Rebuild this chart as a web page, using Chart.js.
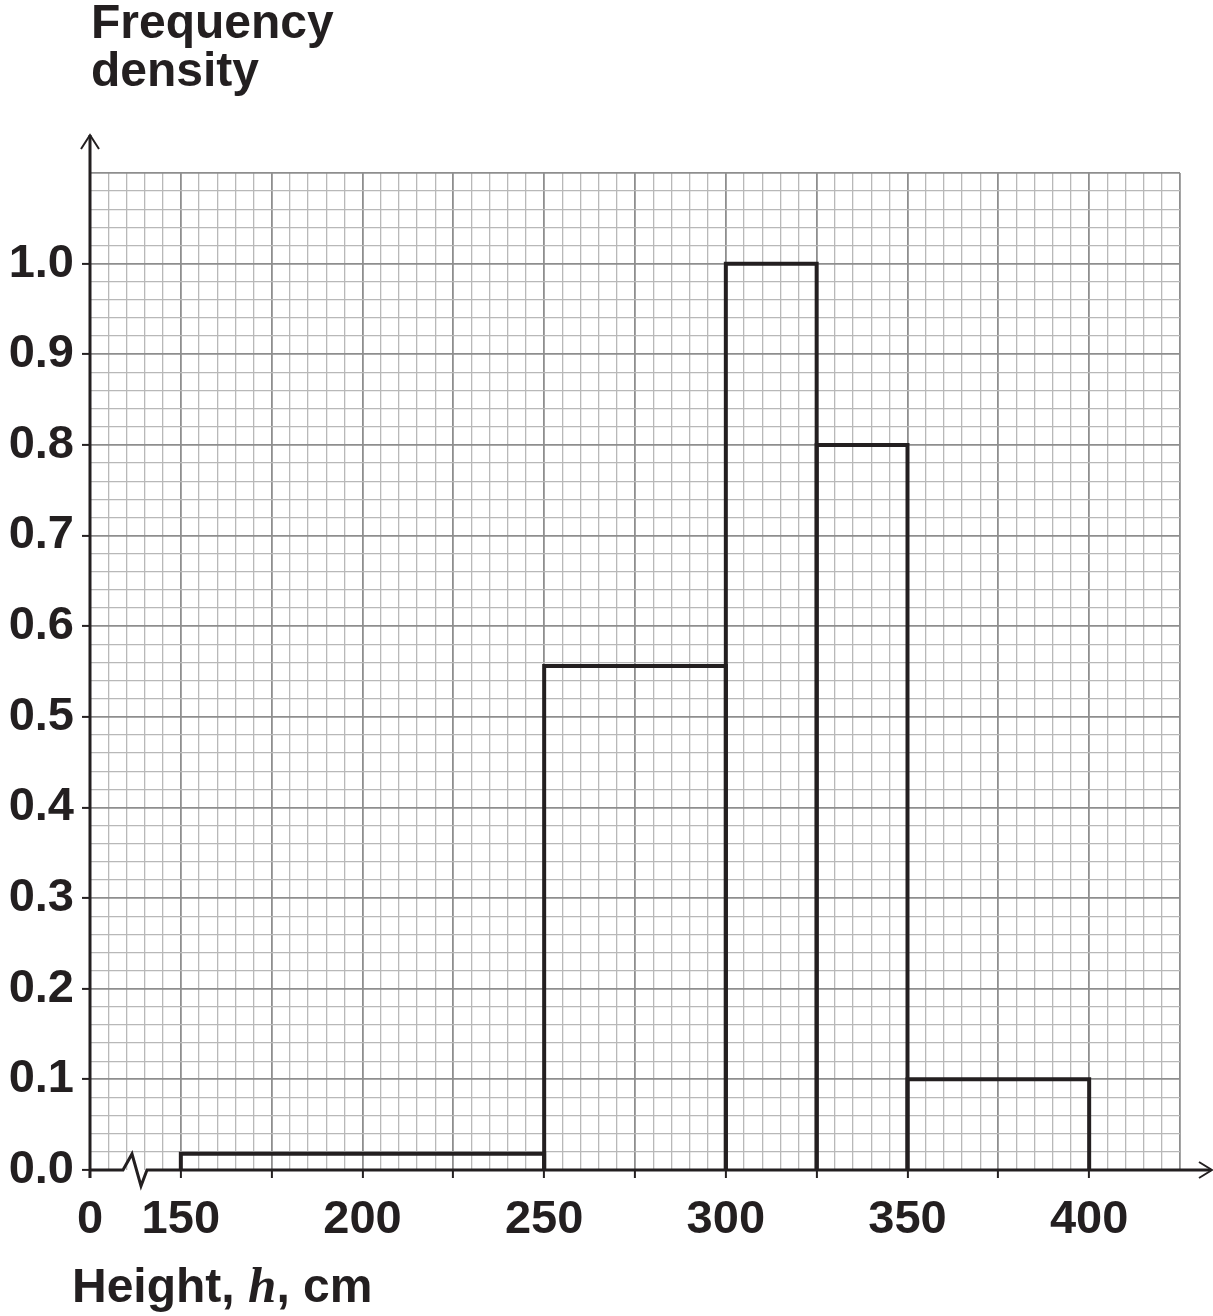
<!DOCTYPE html>
<html>
<head>
<meta charset="utf-8">
<script src="https://cdn.jsdelivr.net/npm/chart.js@4/dist/chart.umd.min.js"></script>
<style>
  html, body { margin: 0; padding: 0; background: #fff; }
  #wrap { position: relative; width: 1213px; height: 1316px; }
  .title { position: absolute; font-family: "Liberation Sans", Arial, sans-serif; font-weight: bold; font-size: 48px; line-height: 48px; color: #231f20; white-space: nowrap; }
  .title i { font-family: "Liberation Serif", "Times New Roman", serif; font-style: italic; font-weight: bold; font-size: 51px; }
</style>
</head>
<body>
<div id="wrap">
  <canvas id="histChart" width="1213" height="1316"></canvas>
  <div class="title" style="left:91px; top:-2px;">Frequency<br>density</div>
  <div class="title" style="left:72px; top:1261px;">Height, <i>h</i>, cm</div>
</div>
<script>
// histogram data (class boundaries + frequency density)
const binEdges = [150, 250, 300, 325, 350, 400];
const freqDensity = [0.018, 0.556, 1.0, 0.8, 0.1];

// axis setup
const xStart = 125;          // where the broken axis starts, labelled "0"
const xEnd = 425;
const xLabelValues = [150, 200, 250, 300, 350, 400];
const yMax = 1.1;
const yLabelMax = 1.0;

const ink = '#231f20';
const minorGrid = '#b8b8b8';
const majorGrid = '#8e8e8e';
const labelFont = { family: "'Liberation Sans', Arial, sans-serif", weight: 'bold', size: 47 };

const datasets = freqDensity.map((d, i) => ({
  type: 'line',
  data: [
    { x: binEdges[i], y: 0 },
    { x: binEdges[i], y: d },
    { x: binEdges[i + 1], y: d },
    { x: binEdges[i + 1], y: 0 }
  ],
  borderColor: ink,
  borderWidth: 4,
  borderJoinStyle: 'miter',
  pointRadius: 0,
  fill: false,
  tension: 0
}));

// arrows + zigzag break, drawn on top
const axesPlugin = {
  id: 'axes',
  afterDraw(chart) {
    const { ctx, chartArea } = chart;
    const { left, right, top, bottom } = chartArea;
    ctx.save();
    ctx.strokeStyle = ink;
    ctx.lineWidth = 3;
    ctx.lineJoin = 'miter';
    ctx.lineCap = 'butt';

    // vertical axis
    ctx.beginPath();
    ctx.moveTo(left, bottom + 8);
    ctx.lineTo(left, top - 38);
    ctx.stroke();
    ctx.lineWidth = 2;
    ctx.beginPath();
    ctx.moveTo(left - 9, top - 24);
    ctx.lineTo(left, top - 38);
    ctx.lineTo(left + 9, top - 24);
    ctx.stroke();

    // horizontal axis with the break
    ctx.lineWidth = 3;
    ctx.beginPath();
    ctx.moveTo(left, bottom);
    ctx.lineTo(left + 33, bottom);
    ctx.lineTo(left + 42, bottom - 16);
    ctx.lineTo(left + 51, bottom + 16);
    ctx.lineTo(left + 57, bottom);
    ctx.lineTo(right + 31, bottom);
    ctx.stroke();
    ctx.lineWidth = 2;
    ctx.beginPath();
    ctx.moveTo(right + 19, bottom - 8);
    ctx.lineTo(right + 32, bottom);
    ctx.lineTo(right + 19, bottom + 8);
    ctx.stroke();
    ctx.restore();
  }
};

new Chart(document.getElementById('histChart'), {
  type: 'line',
  data: { datasets },
  options: {
    responsive: false,
    animation: false,
    layout: { padding: { left: 0, right: 33, top: 173, bottom: 0 } },
    plugins: { legend: { display: false }, tooltip: { enabled: false } },
    scales: {
      x: {
        type: 'linear',
        min: xStart,
        max: xEnd,
        afterFit: s => { s.height = 146; },
        border: { display: false },
        grid: {
          color: c => c.index === 0 ? 'rgba(0,0,0,0)' : (c.index % 5 === 0 ? majorGrid : minorGrid),
          lineWidth: c => c.index % 5 === 0 ? 1.8 : 1.3,
          tickLength: 8,
          tickWidth: 2,
          tickColor: c => (c.index % 5 === 0 && c.tick && c.tick.value <= 400) ? ink : 'rgba(0,0,0,0)'
        },
        ticks: {
          stepSize: 5,
          autoSkip: false,
          maxRotation: 0,
          minRotation: 0,
          padding: 14,
          color: ink,
          font: labelFont,
          callback: (v) => {
            if (v === xStart) return '0';
            return xLabelValues.includes(v) ? String(v) : '';
          }
        }
      },
      y: {
        type: 'linear',
        min: 0,
        max: yMax,
        afterFit: s => { s.width = 90; },
        border: { display: false },
        grid: {
          color: c => c.index === 0 ? 'rgba(0,0,0,0)' : (c.index % 5 === 0 ? majorGrid : minorGrid),
          lineWidth: c => c.index % 5 === 0 ? 1.8 : 1.3,
          tickLength: 8,
          tickWidth: 2,
          tickColor: c => (c.index % 5 === 0 && c.index <= 50) ? ink : 'rgba(0,0,0,0)'
        },
        ticks: {
          stepSize: 0.02,
          autoSkip: false,
          padding: 8,
          color: ink,
          font: labelFont,
          callback: (v, i) => (i % 5 === 0 && v <= yLabelMax + 1e-9) ? v.toFixed(1) : ''
        }
      }
    }
  },
  plugins: [axesPlugin]
});
</script>
</body>
</html>
